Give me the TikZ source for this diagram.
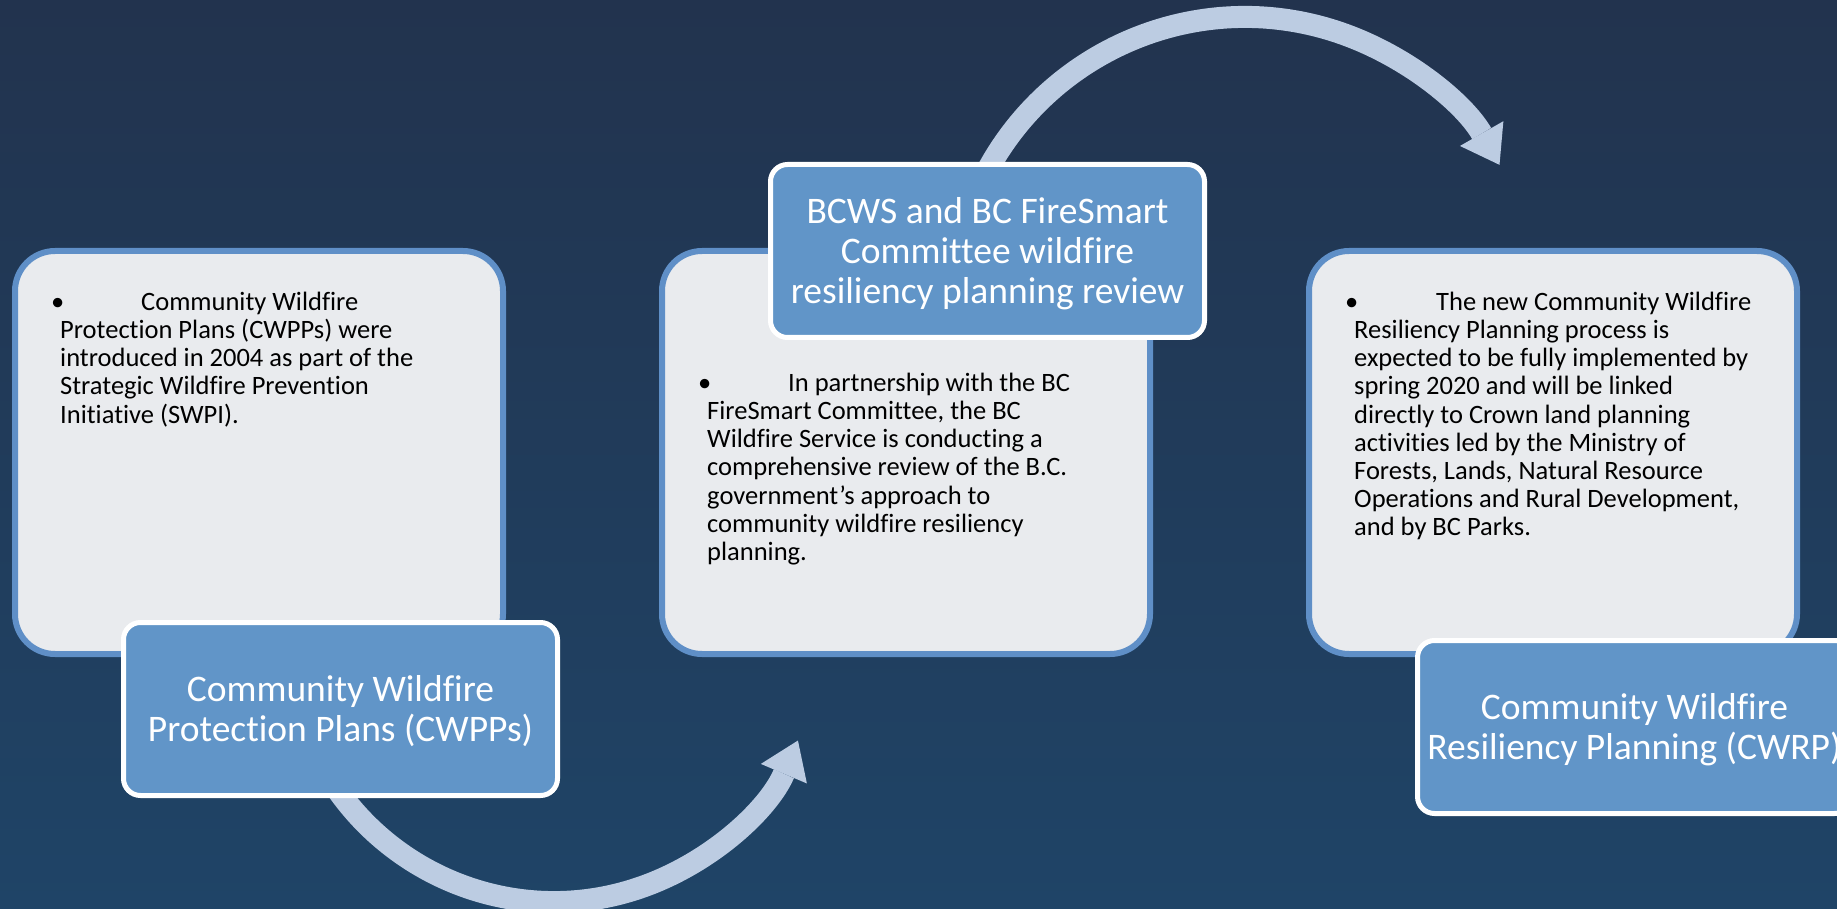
\documentclass[tikz,border=0pt]{standalone}
\usepackage{fontspec}
\setmainfont{Carlito}[Ligatures=CommonOff]
\usetikzlibrary{arrows.meta}
\definecolor{bgtop}{HTML}{22334E}
\definecolor{bgbot}{HTML}{1F4467}
\definecolor{panelfill}{HTML}{E9EBEE}
\definecolor{paneledge}{HTML}{5F8FC7}
\definecolor{tagfill}{HTML}{6195C8}
\definecolor{flowcol}{HTML}{BCCCE2}
% struts that fix the height of the first and the depth of the last tag line
\newcommand\tgtop{\rule{0pt}{36pt}}
\newcommand\tgbot{\rule[-11pt]{0pt}{11pt}}
\begin{document}
\begin{tikzpicture}[x=1pt,y=1pt,
  panel/.style={draw=paneledge, line width=6pt, fill=panelfill, rounded corners=40pt,
    minimum width=488pt, minimum height=403pt, inner sep=0pt},
  tag/.style={draw=white, line width=5pt, fill=tagfill, rounded corners=17pt,
    minimum width=434pt, minimum height=173pt, inner sep=0pt, text=white,
    align=center, font=\fontsize{37.5}{40}\selectfont},
  body/.style={anchor=north west, inner sep=0pt, align=left,
    font=\fontsize{26.5}{28.2}\selectfont, text=black},
  flow/.style={draw=flowcol, line width=22pt,
    -{Triangle[width=50pt,length=36pt,line width=0pt]}}]
\useasboundingbox (0,0) rectangle (1837,-909);
% background
\shade[top color=bgtop, bottom color=bgbot] (0,0) rectangle (1837,-909);

% curved flow arrows (centres of their circles)
\coordinate (cA) at (554,-637);
\coordinate (cB) at (1245,-310);
\draw[flow] ([shift={(200:265pt)}]cA) arc[start angle=200, end angle=337, radius=265pt];
\draw[flow] ([shift={(160:293pt)}]cB) arc[start angle=160, end angle=29.7, radius=293pt];

% content panels
\node[panel] (p1) at (259,-452.5) {};
\node[panel] (p2) at (906,-452.5) {};
\node[panel] (p3) at (1553,-452.5) {};

% panel texts
\node[body] (t1) at (60,-285) {\rule{0pt}{25pt}\hspace*{-9pt}\makebox[90pt][l]{\textbullet}Community Wildfire\\
Protection Plans (CWPPs) were\\
introduced in 2004 as part of the\\
Strategic Wildfire Prevention\\
Initiative (SWPI).};
\node[body] (t2) at (707,-366) {\rule{0pt}{25pt}\hspace*{-9pt}\makebox[90pt][l]{\textbullet}In partnership with the BC\\
FireSmart Committee, the BC\\
Wildfire Service is conducting a\\
comprehensive review of the B.C.\\
government’s approach to\\
community wildfire resiliency\\
planning.};
\node[body] (t3) at (1354,-285) {\rule{0pt}{25pt}\hspace*{-9pt}\makebox[91pt][l]{\textbullet}The new Community Wildfire\\
Resiliency Planning process is\\
expected to be fully implemented by\\
spring 2020 and will be linked\\
directly to Crown land planning\\
activities led by the Ministry of\\
Forests, Lands, Natural Resource\\
Operations and Rural Development,\\
and by BC Parks.};

% title tags
\node[tag] (l1) at (340.5,-709) {\tgtop Community Wildfire\\Protection Plans (CWPPs)\tgbot};
\node[tag] (l2) at (987.5,-251) {\tgtop BCWS and BC FireSmart\\Committee wildfire\\resiliency planning review\tgbot};
\node[tag] (l3) at (1634.5,-727) {\tgtop Community Wildfire\\Resiliency Planning (CWRP)\tgbot};
\end{tikzpicture}
\end{document}
